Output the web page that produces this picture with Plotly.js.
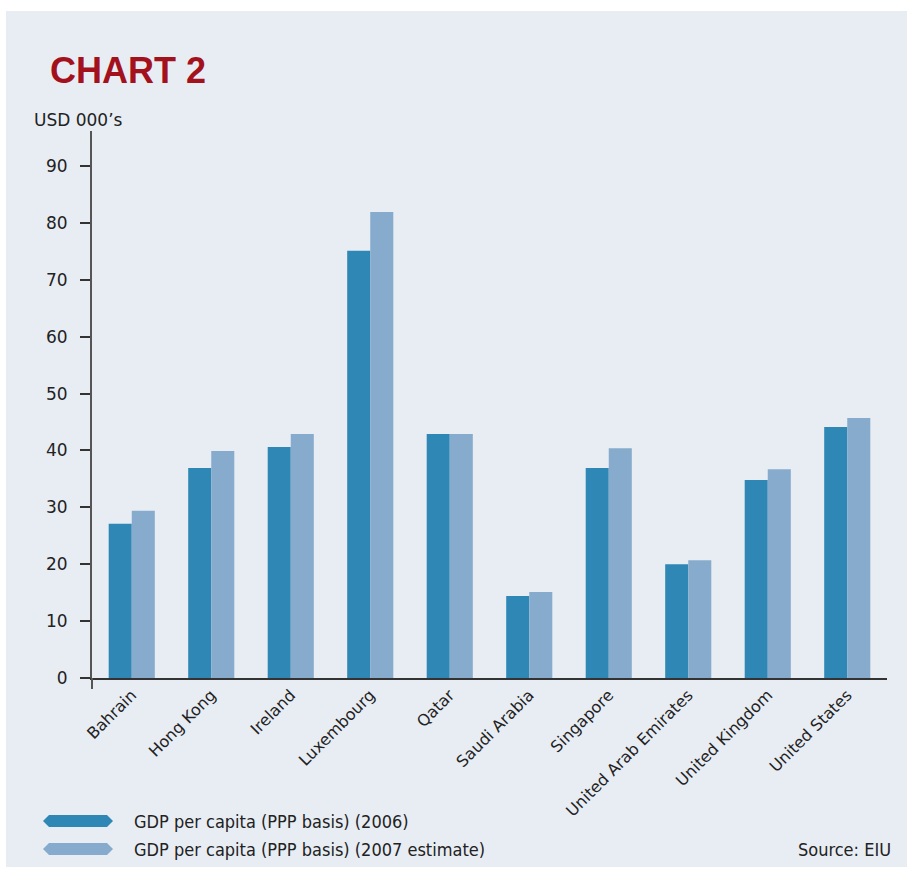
<!DOCTYPE html>
<html>
<head>
<meta charset="utf-8">
<script src="https://cdn.plot.ly/plotly-3.0.1.min.js"></script>
<style>
  html, body { margin: 0; padding: 0; background: #ffffff; }
  #panel { position: absolute; left: 6px; top: 11px; width: 901px; height: 856px; background: #E8EDF4; }
  #chart { position: absolute; left: 0; top: 0; width: 907px; height: 877px; }
</style>
</head>
<body>
<div id="panel"></div>
<div id="chart"></div>
<script>
// ---- data ----
const countries = ["Bahrain", "Hong Kong", "Ireland", "Luxembourg", "Qatar", "Saudi Arabia", "Singapore", "United Arab Emirates", "United Kingdom", "United States"];
const gdp2006 = [27.1, 36.9, 40.6, 75.1, 42.9, 14.4, 36.9, 20.0, 34.8, 44.1];
const gdp2007 = [29.4, 39.9, 42.9, 81.9, 42.9, 15.1, 40.4, 20.7, 36.7, 45.7];
const seriesNames = ["GDP per capita (PPP basis) (2006)", "GDP per capita (PPP basis) (2007 estimate)"];
const yTickVals = [0, 10, 20, 30, 40, 50, 60, 70, 80, 90];
const chartTitle = "CHART 2";
const unitLabel = "USD 000\u2019s";
const sourceText = "Source: EIU";

// ---- style ----
const W = 907, H = 877;
const L = 92, R = 20, T = 131, B = 199;
const colors = ["#2E87B4", "#87ABCC"];
const pw = W - L - R, ph = H - T - B;
const px2x = p => (p - L) / pw;
const px2y = p => (H - B - p) / ph;

const traces = [gdp2006, gdp2007].map((vals, i) => ({
  type: "bar",
  x: countries,
  y: vals,
  name: seriesNames[i],
  marker: { color: colors[i], line: { width: 0 } },
  hoverinfo: "x+y",
  showlegend: false
}));

function hexPath(x0, x1, yc, h, inset) {
  const pts = [[x0, yc], [x0 + inset, yc - h / 2], [x1 - inset, yc - h / 2], [x1, yc], [x1 - inset, yc + h / 2], [x0 + inset, yc + h / 2]];
  return "M" + pts.map(p => px2x(p[0]) + "," + px2y(p[1])).join(" L") + " Z";
}

const legendRows = [821, 849];
const shapes = [
  // y-axis line extension below zero
  { type: "line", xref: "paper", yref: "paper", x0: 0, x1: 0, y0: 0, y1: px2y(689), line: { color: "#555555", width: 2 } }
];
const annotations = [
  { text: unitLabel, xref: "paper", yref: "paper", x: px2x(32), y: px2y(120), xanchor: "left", yanchor: "middle", showarrow: false, font: { family: "DejaVu Sans", size: 17, color: "#222222" } },
  { text: sourceText, xref: "paper", yref: "paper", x: px2x(893), y: px2y(849), xanchor: "right", yanchor: "middle", showarrow: false, font: { family: "DejaVu Sans Condensed", size: 18, color: "#222222" } }
];
seriesNames.forEach((n, i) => {
  shapes.push({ type: "path", xref: "paper", yref: "paper", path: hexPath(43, 113, legendRows[i], 12, 6), fillcolor: colors[i], line: { width: 0 } });
  annotations.push({ text: n, xref: "paper", yref: "paper", x: px2x(132), y: px2y(legendRows[i]), xanchor: "left", yanchor: "middle", showarrow: false, font: { family: "DejaVu Sans Condensed", size: 18, color: "#222222" } });
});

const layout = {
  width: W, height: H,
  margin: { l: L, r: R, t: T, b: B, pad: 0 },
  paper_bgcolor: "rgba(0,0,0,0)",
  plot_bgcolor: "rgba(0,0,0,0)",
  barmode: "group",
  bargap: 0.42,
  bargroupgap: 0,
  title: { text: "<b>" + chartTitle + "</b>", x: 50 / W, xanchor: "left", xref: "container", y: 1 - 70 / H, yanchor: "middle", yref: "container", font: { family: "Liberation Sans", size: 36, color: "#A3121C" } },
  xaxis: {
    type: "category",
    range: [-0.5, 9.5],
    showline: true, linecolor: "#333333", linewidth: 1.5,
    ticks: "", tickangle: -45,
    tickfont: { family: "DejaVu Sans", size: 16, color: "#222222" },
    showgrid: false, zeroline: false, fixedrange: true
  },
  yaxis: {
    range: [0, 96.15],
    tickvals: yTickVals, ticktext: yTickVals.map(String),
    showline: true, linecolor: "#555555", linewidth: 2,
    ticks: "outside", ticklen: 10, tickwidth: 2, tickcolor: "#333333",
    ticklabelstandoff: 9,
    tickfont: { family: "DejaVu Sans", size: 17, color: "#222222" },
    showgrid: false, zeroline: false, fixedrange: true
  },
  shapes: shapes,
  annotations: annotations,
  showlegend: false
};

Plotly.newPlot("chart", traces, layout, { displayModeBar: false, staticPlot: true });
</script>
</body>
</html>
